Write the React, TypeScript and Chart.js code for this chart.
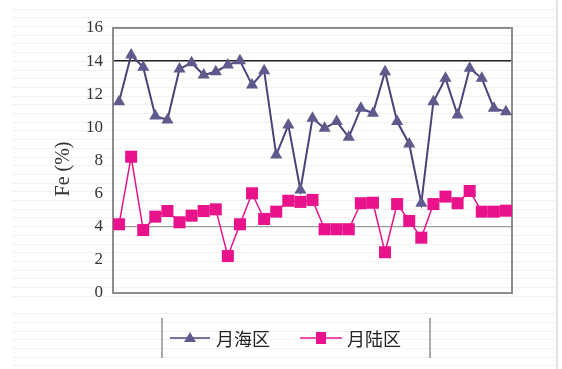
import React, { useEffect, useRef } from "react";
import { Chart, registerables } from "chart.js";

Chart.register(...registerables);

// Sample numbers along the traverse
const samples = [
  "1", "2", "3", "4", "5", "6", "7", "8", "9", "10", "11",
  "12", "13", "14", "15", "16", "17", "18", "19", "20", "21", "22",
  "23", "24", "25", "26", "27", "28", "29", "30", "31", "32", "33",
];

// Fe content (%) of mare samples
const mareFe = [
  11.55, 14.37, 13.63, 10.69, 10.45, 13.53, 13.9, 13.16, 13.36, 13.77, 14.03,
  12.56, 13.42, 8.33, 10.14, 6.22, 10.55, 9.94, 10.35, 9.4, 11.15, 10.85,
  13.36, 10.35, 9.0, 5.42, 11.55, 12.96, 10.75, 13.57, 12.96, 11.15, 10.95,
];

// Fe content (%) of highland samples
const highlandFe = [
  4.15, 8.23, 3.8, 4.61, 4.95, 4.27, 4.67, 4.95, 5.05, 2.23, 4.15,
  6.02, 4.47, 4.91, 5.57, 5.5, 5.62, 3.85, 3.85, 3.85, 5.42, 5.45,
  2.46, 5.37, 4.35, 3.34, 5.37, 5.82, 5.42, 6.16, 4.91, 4.91, 4.97,
];

const yTicks = [0, 2, 4, 6, 8, 10, 12, 14, 16];
const seriesNames = ["月海区", "月陆区"];
const yTitle = "Fe (%)";

const MARE_LINE = "#4a4478";
const MARE_FILL = "#5f5a8c";
const HIGH_COLOR = "#e8138a";
const SERIF = '"Liberation Serif", "Times New Roman", serif';

// Plot frame drawn around the chart area
const framePlugin = {
  id: "frame",
  beforeDatasetsDraw(chart: any) {
    const { ctx, chartArea } = chart;
    ctx.save();
    ctx.strokeStyle = "#8c8c8c";
    ctx.lineWidth = 2;
    ctx.strokeRect(
      chartArea.left,
      chartArea.top,
      chartArea.right - chartArea.left,
      chartArea.bottom - chartArea.top
    );
    ctx.restore();
  },
};

// Rotated y-axis title
const yTitlePlugin = {
  id: "yTitle",
  afterDraw(chart: any) {
    const { ctx } = chart;
    ctx.save();
    ctx.translate(64, 169);
    ctx.rotate(-Math.PI / 2);
    ctx.fillStyle = "#333";
    ctx.font = `20px ${SERIF}`;
    ctx.textAlign = "center";
    ctx.textBaseline = "middle";
    ctx.fillText(yTitle, 0, 0);
    ctx.restore();
  },
};

// Boxed legend under the plot
const legendPlugin = {
  id: "boxLegend",
  afterDraw(chart: any) {
    const { ctx } = chart;
    const top = 318;
    const bottom = 358;
    const midY = 338;
    ctx.save();
    ctx.strokeStyle = "#8c8c8c";
    ctx.lineWidth = 1.5;
    [162, 430].forEach((x) => {
      ctx.beginPath();
      ctx.moveTo(x, top);
      ctx.lineTo(x, bottom);
      ctx.stroke();
    });

    // mare entry
    ctx.strokeStyle = MARE_LINE;
    ctx.lineWidth = 1.5;
    ctx.beginPath();
    ctx.moveTo(170, midY);
    ctx.lineTo(210, midY);
    ctx.stroke();
    ctx.fillStyle = MARE_FILL;
    ctx.beginPath();
    ctx.moveTo(190, midY - 6);
    ctx.lineTo(196, midY + 4);
    ctx.lineTo(184, midY + 4);
    ctx.closePath();
    ctx.fill();

    // highland entry
    ctx.strokeStyle = HIGH_COLOR;
    ctx.beginPath();
    ctx.moveTo(300, midY);
    ctx.lineTo(342, midY);
    ctx.stroke();
    ctx.fillStyle = HIGH_COLOR;
    ctx.fillRect(316, midY - 6, 10, 12);

    ctx.fillStyle = "#222";
    ctx.font = '18px "Noto Sans CJK SC"';
    ctx.textBaseline = "middle";
    ctx.textAlign = "left";
    ctx.fillText(seriesNames[0], 216, midY + 1);
    ctx.fillText(seriesNames[1], 347, midY + 1);
    ctx.restore();
  },
};

export default function App() {
  const canvasRef = useRef<HTMLCanvasElement | null>(null);

  useEffect(() => {
    document.body.style.margin = "0";
    const canvas = canvasRef.current;
    if (!canvas) return;

    const chart = new Chart(canvas, {
      type: "line",
      data: {
        labels: samples,
        datasets: [
          {
            label: seriesNames[0],
            data: mareFe,
            borderColor: MARE_LINE,
            borderWidth: 2,
            backgroundColor: MARE_FILL,
            pointStyle: "triangle",
            pointRadius: 7,
            pointBackgroundColor: MARE_FILL,
            pointBorderColor: MARE_FILL,
            pointBorderWidth: 0,
            tension: 0,
            clip: false,
            order: 1,
          },
          {
            label: seriesNames[1],
            data: highlandFe,
            borderColor: HIGH_COLOR,
            borderWidth: 1.5,
            backgroundColor: HIGH_COLOR,
            pointStyle: "rect",
            pointRadius: 8.5,
            pointBackgroundColor: HIGH_COLOR,
            pointBorderColor: HIGH_COLOR,
            pointBorderWidth: 0,
            tension: 0,
            clip: false,
            order: 0,
          },
        ],
      },
      options: {
        animation: false,
        responsive: false,
        maintainAspectRatio: false,
        layout: { padding: { top: 28, right: 50, bottom: 76, left: 0 } },
        plugins: {
          legend: { display: false },
          tooltip: { enabled: false },
        },
        scales: {
          x: {
            type: "category",
            offset: true,
            display: false,
            grid: { display: false },
          },
          y: {
            min: 0,
            max: 16,
            afterBuildTicks(scale: any) {
              scale.ticks = yTicks.map((v) => ({ value: v }));
            },
            afterFit(scale: any) {
              scale.width = 113;
            },
            ticks: {
              padding: 10,
              color: "#333",
              font: { family: SERIF, size: 17 },
            },
            border: { display: false },
            grid: {
              drawTicks: false,
              color: (c: any) =>
                c.tick && c.tick.value === 14
                  ? "#222"
                  : c.tick && c.tick.value === 4
                  ? "#9a9a9a"
                  : "rgba(0,0,0,0)",
              lineWidth: (c: any) => (c.tick && c.tick.value === 14 ? 1.5 : 1.2),
            },
            title: { display: false },
          },
        },
      },
      plugins: [framePlugin, yTitlePlugin, legendPlugin],
    });

    return () => chart.destroy();
  }, []);

  return (
    <div
      style={{
        position: "relative",
        width: 562,
        height: 369,
        background: "#fff",
        overflow: "hidden",
      }}
    >
      <div
        style={{
          position: "absolute",
          left: 12,
          top: 0,
          width: 544,
          height: 369,
          backgroundImage:
            "repeating-linear-gradient(to bottom, rgba(0,0,0,0) 0px, rgba(0,0,0,0) 7.7px, #f2f2f2 7.7px, #f2f2f2 8.7px)",
          backgroundPosition: "0 1px",
        }}
      />
      <div
        style={{
          position: "absolute",
          left: 556,
          top: 0,
          width: 2,
          height: 369,
          background: "#e2e2e2",
        }}
      />
      <canvas
        ref={canvasRef}
        width={562}
        height={369}
        style={{ position: "absolute", left: 0, top: 0, width: 562, height: 369 }}
      />
    </div>
  );
}
